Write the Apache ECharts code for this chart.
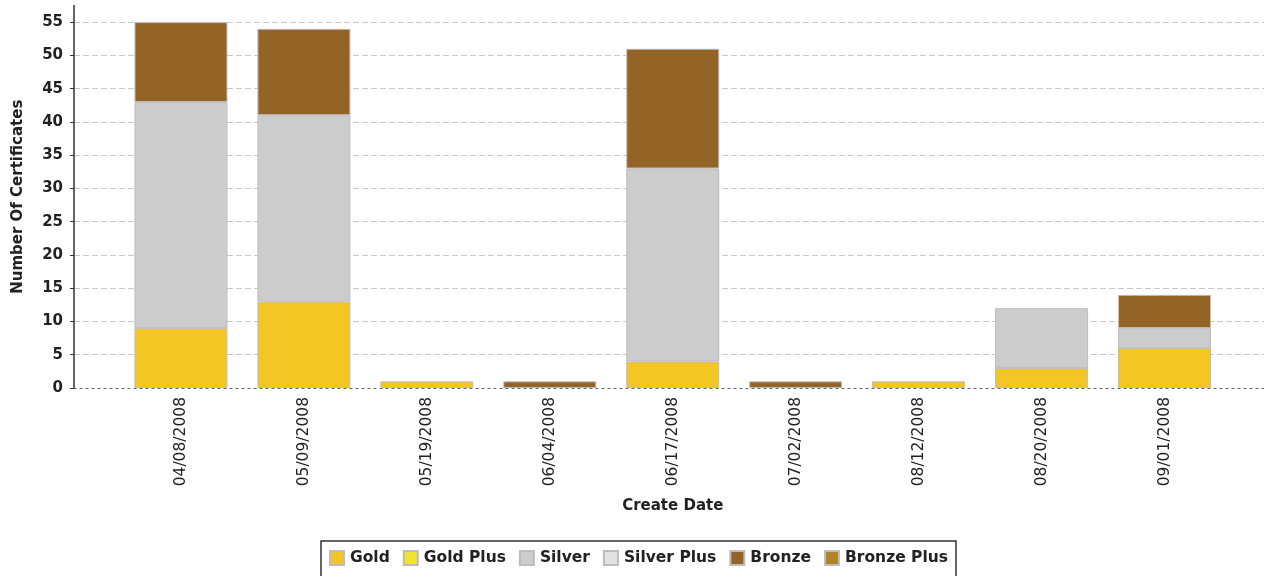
<!DOCTYPE html>
<html>
<head>
<meta charset="utf-8">
<script src="https://cdn.jsdelivr.net/npm/echarts@6/dist/echarts.min.js"></script>
<style>html,body{margin:0;padding:0;background:#fff;}#c{width:1264px;height:576px;}</style>
</head>
<body>
<div id="c"></div>
<script>
const categories = ['04/08/2008','05/09/2008','05/19/2008','06/04/2008','06/17/2008','07/02/2008','08/12/2008','08/20/2008','09/01/2008'];
const seriesNames = ['Gold','Gold Plus','Silver','Silver Plus','Bronze','Bronze Plus'];
const gold       = [9, 13, 1, 0, 4, 0, 1, 3, 6];
const goldPlus   = [0, 0, 0, 0, 0, 0, 0, 0, 0];
const silver     = [34, 28, 0, 0, 29, 0, 0, 9, 3];
const silverPlus = [0, 0, 0, 0, 0, 0, 0, 0, 0];
const bronze     = [12, 13, 0, 1, 18, 1, 0, 0, 5];
const bronzePlus = [0, 0, 0, 0, 0, 0, 0, 0, 0];
const yTicks = [0, 5, 10, 15, 20, 25, 30, 35, 40, 45, 50, 55];

const colors = ['#F3C623', '#F1E22E', '#CCCCCC', '#E2E2E2', '#946427', '#B1812C'];
const values = [gold, goldPlus, silver, silverPlus, bronze, bronzePlus];

const chart = echarts.init(document.getElementById('c'));
const TOP = 5.5, BOTTOM = 188;
const font = 'DejaVu Sans';

const option = {
  animation: false,
  backgroundColor: '#fff',
  textStyle: { fontFamily: font },
  grid: [
    { left: 74, right: 0, top: TOP, bottom: BOTTOM },
    { left: 119.5, right: 38, top: TOP, bottom: BOTTOM }
  ],
  legend: {
    data: seriesNames,
    left: 321,
    top: 541,
    itemWidth: 14,
    itemHeight: 14,
    itemGap: 13,
    icon: 'rect',
    padding: [9, 8, 14, 8],
    borderColor: '#333',
    borderWidth: 1.5,
    borderRadius: 0,
    textStyle: { fontFamily: font, fontSize: 15.5, fontWeight: 'bold', color: '#222', padding: [0, 0, 0, 1] }
  },
  xAxis: [
    {
      type: 'value', gridIndex: 0, min: 0, max: 1,
      axisLabel: { show: false }, axisTick: { show: false }, splitLine: { show: false },
      axisLine: { show: true, lineStyle: { color: '#666', width: 1.2, type: [2, 4] } }
    },
    {
      type: 'category', gridIndex: 1, data: categories,
      axisLine: { show: false }, axisTick: { show: false },
      axisLabel: { rotate: 90, margin: 9, fontSize: 15.5, color: '#222', fontFamily: font, interval: 0 },
      name: 'Create Date', nameLocation: 'middle', nameGap: 111,
      nameTextStyle: { fontSize: 15, fontWeight: 'bold', color: '#222', fontFamily: font }
    }
  ],
  yAxis: [
    {
      type: 'value', gridIndex: 0, min: 0, max: 57.5, interval: 5,
      axisLine: { show: true, lineStyle: { color: '#333', width: 1.5 } },
      axisTick: { show: true, length: 4, lineStyle: { color: '#333' } },
      axisLabel: { showMaxLabel: false, fontSize: 15, fontWeight: 'bold', color: '#222', margin: 11, fontFamily: font },
      splitLine: { show: true, showMaxLine: false, showMinLine: false, lineStyle: { color: '#C8C8C8', type: [6, 3], width: 1 } },
      name: 'Number Of Certificates', nameLocation: 'middle', nameGap: 48,
      nameTextStyle: { fontSize: 15, fontWeight: 'bold', color: '#222', fontFamily: font }
    },
    {
      type: 'value', gridIndex: 1, min: 0, max: 57.5, interval: 5, show: false,
      splitLine: { show: false }
    }
  ],
  series: seriesNames.map((name, i) => ({
    name: name,
    type: 'bar',
    xAxisIndex: 1,
    yAxisIndex: 1,
    stack: 'total',
    barWidth: 93,
    data: values[i].map(v => v === 0 ? '-' : v),
    itemStyle: { color: colors[i], borderColor: '#BDBDBD', borderWidth: 1 }
  }))
};
chart.setOption(option);
</script>
</body>
</html>
